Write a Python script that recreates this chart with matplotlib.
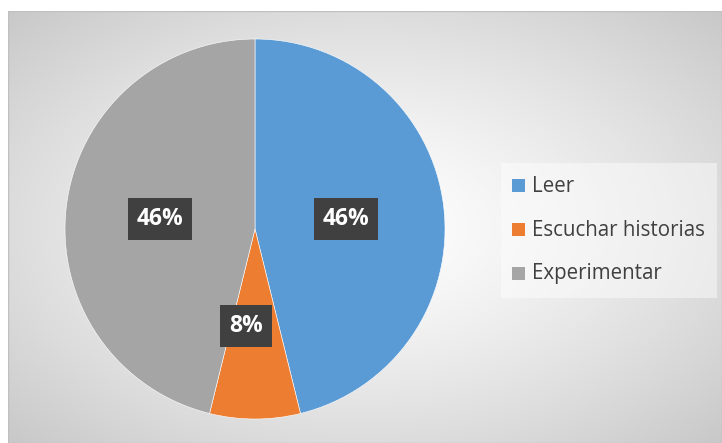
import numpy as np
import matplotlib.pyplot as plt
from matplotlib.patches import Rectangle

categories = ["Leer", "Escuchar historias", "Experimentar"]
values = [6, 1, 6]
colors = ["#5B9BD5", "#ED7D31", "#A5A5A5"]
pct_labels = ["46%", "8%", "46%"]

W, H = 722, 443
fig = plt.figure(figsize=(W / 100, H / 100), dpi=100)
fig.patch.set_facecolor("white")

# Background chart area with radial gradient
x0, y0, x1, y1 = 8, 11, 722, 443
bg = fig.add_axes([x0 / W, 1 - y1 / H, (x1 - x0) / W, (y1 - y0) / H])
bg.set_axis_off()
nx, ny = 400, 250
xs = np.linspace(0, 1, nx)
ys = np.linspace(0, 1, ny)
X, Y = np.meshgrid(xs, ys)
cx, cy = 0.5, 0.5
d = np.sqrt(((X - cx) / 0.72) ** 2 + ((Y - cy) / 0.72) ** 2)
d = np.clip(d, 0, 1)
v = 1.0 - (1.0 - 0.78) * d ** 1.3
img = np.dstack([v, v, v])
bg.imshow(img, extent=[0, 1, 0, 1], aspect="auto", origin="lower")
bg.set_xlim(0, 1)
bg.set_ylim(0, 1)
bg.add_patch(Rectangle((0, 0), 1, 1, fill=False, edgecolor="#c0c0c0", lw=1.0,
                       transform=bg.transAxes))

# Pie
cxp, cyp, r = 255, 229, 190
ax = fig.add_axes([(cxp - r) / W, 1 - (cyp + r) / H, 2 * r / W, 2 * r / H])
ax.set_axis_off()
wedges, _ = ax.pie(values, colors=colors, startangle=90, counterclock=False,
                   radius=1.0, wedgeprops=dict(edgecolor="white", linewidth=0.4))
ax.set_xlim(-1, 1)
ax.set_ylim(-1, 1)
ax.set_aspect("auto")

# Data labels
label_pos = [(346, 219), (246, 326), (160, 219)]
for (px, py), txt in zip(label_pos, pct_labels):
    xf, yf = px / W, 1 - py / H
    fig.text(xf, yf, txt, ha="center", va="center", color="white",
             fontsize=16.5, fontweight="bold", family=["Open Sans", "DejaVu Sans"],
             bbox=dict(boxstyle="square,pad=0.38", facecolor="#404040",
                       edgecolor="none"))

# Legend
lx0, ly0, lx1, ly1 = 501, 163, 717, 298
fig.patches.append(Rectangle((lx0 / W, 1 - ly1 / H), (lx1 - lx0) / W, (ly1 - ly0) / H,
                             transform=fig.transFigure, facecolor="white", alpha=0.45,
                             edgecolor="none"))
leg_y = [186, 230, 274]
for cat, col, yy in zip(categories, colors, leg_y):
    fig.patches.append(Rectangle((512 / W, 1 - (yy + 6) / H), 13 / W, 13 / H,
                                 transform=fig.transFigure, facecolor=col,
                                 edgecolor="none"))
    fig.text(532 / W, 1 - yy / H, cat, ha="left", va="center", color="#404040",
             fontsize=14.8, family=["Open Sans", "DejaVu Sans"])

fig.savefig("out.png", dpi=100)
